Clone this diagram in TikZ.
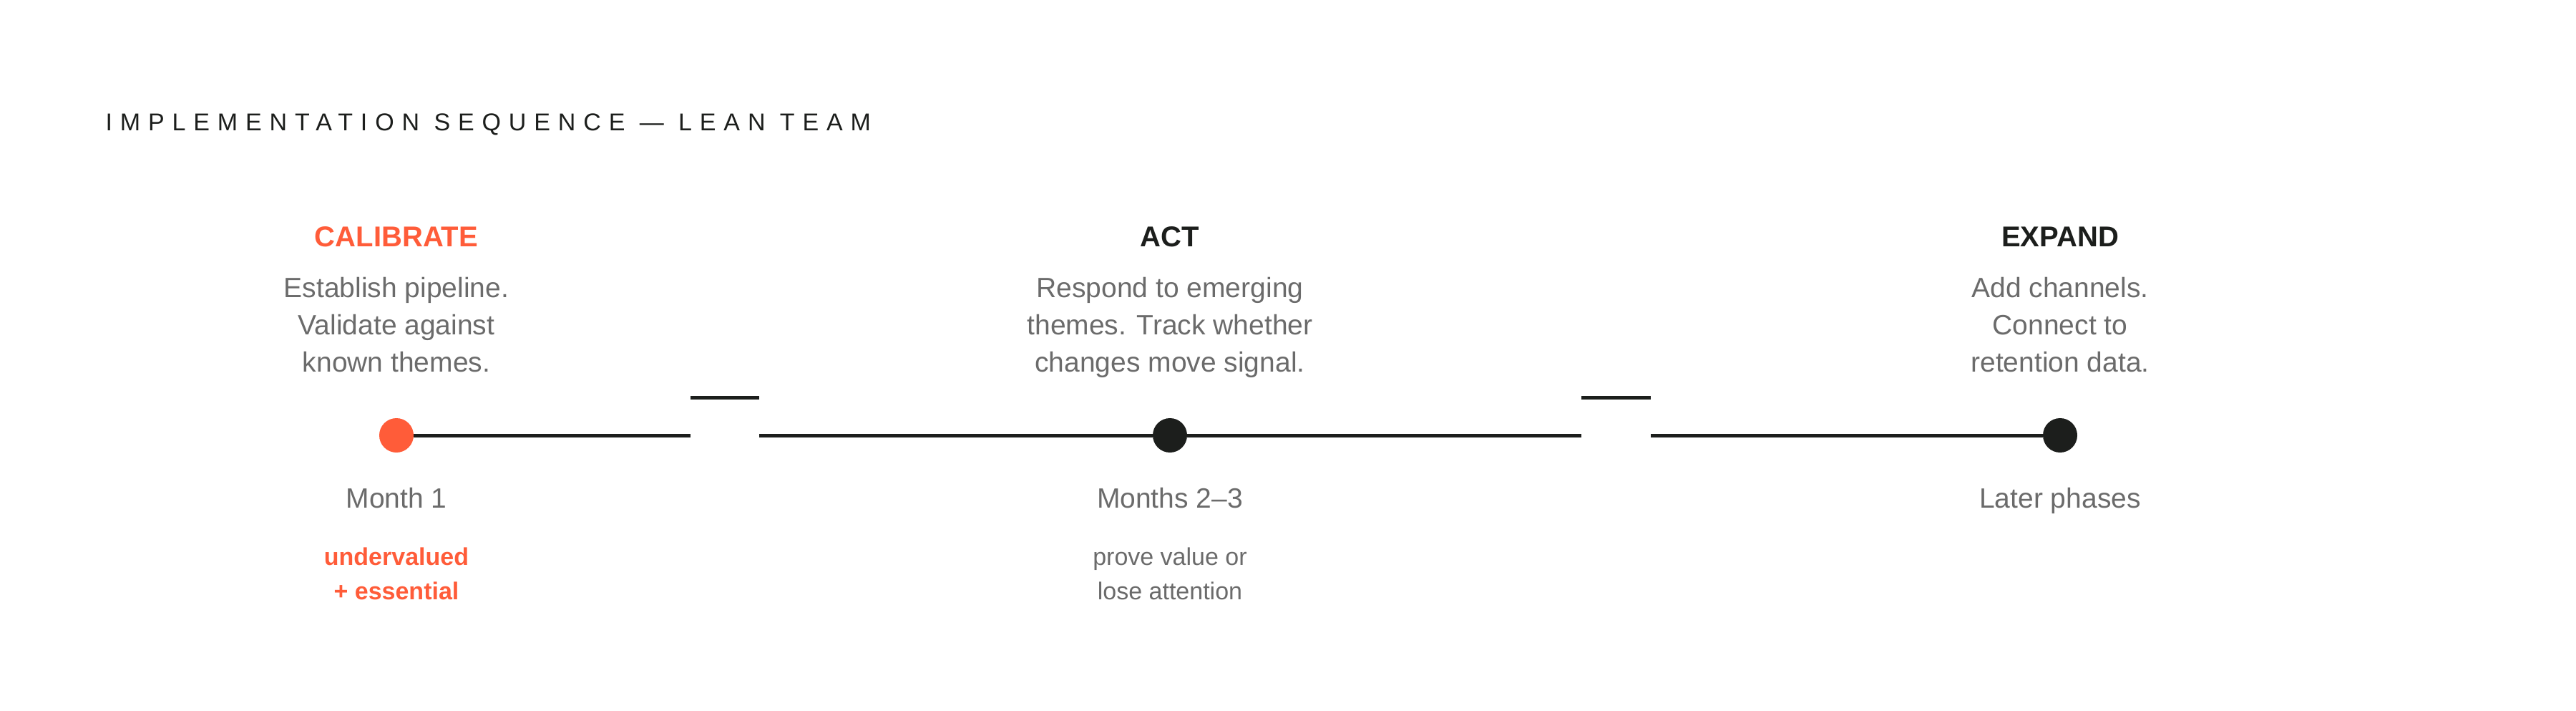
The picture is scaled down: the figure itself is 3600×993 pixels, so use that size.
\documentclass[tikz,border=0pt]{standalone}
\usepackage{fontspec}
\setmainfont{Liberation Sans}
\definecolor{accent}{HTML}{FF5C39}
\definecolor{ink}{HTML}{1C1E1C}
\definecolor{mute}{HTML}{6B6B6B}
\begin{document}
\begin{tikzpicture}[x=1pt,y=-1pt,
  title/.style={font=\fontsize{40}{46}\selectfont\bfseries, anchor=base},
  body/.style={font=\fontsize{39}{52}\selectfont, text=mute, align=center, anchor=base},
  note/.style={font=\fontsize{34}{48}\selectfont, align=center, anchor=base},
  dot/.style={circle, inner sep=0pt, minimum size=48pt},
  track/.style={line width=5pt, draw=ink}]
\useasboundingbox (0,0) rectangle (3600,993);
\node[anchor=base west, text=ink, font=\fontsize{34}{40}\selectfont\addfontfeatures{LetterSpace=32}] (hdr) at (144,182) {IMPLEMENTATION SEQUENCE — LEAN TEAM};

% stage 1
\node[title, text=accent] (t1) at (554,344) {CALIBRATE};
\node[body] (b1) at (554,519) {Establish pipeline.\\Validate against\\known themes.};
\node[dot, fill=accent] (d1) at (554,608) {};
\node[body] (m1) at (554,709) {Month 1};
\node[note, text=accent, font=\fontsize{34}{48}\selectfont\bfseries] (n1) at (554,837) {undervalued\\+ essential};

% stage 2
\node[title, text=ink] (t2) at (1635,344) {ACT};
\node[body] (b2) at (1635,519) {Respond to emerging\\themes. Track whether\\changes move signal.};
\node[dot, fill=ink] (d2) at (1635,608) {};
\node[body] (m2) at (1635,709) {Months 2–3};
\node[note, text=mute] (n2) at (1635,837) {prove value or\\lose attention};

% stage 3
\node[title, text=ink] (t3) at (2879,344) {EXPAND};
\node[body] (b3) at (2879,519) {Add channels.\\Connect to\\retention data.};
\node[dot, fill=ink] (d3) at (2879,608) {};
\node[body] (m3) at (2879,709) {Later phases};

% track with breaks
\coordinate (g1a) at (965,608);
\coordinate (g1b) at (1061,608);
\coordinate (g1c) at (965,555);
\coordinate (g1d) at (1061,555);
\coordinate (g2a) at (2210,608);
\coordinate (g2b) at (2307,608);
\coordinate (g2c) at (2210,555);
\coordinate (g2d) at (2307,555);
\draw[track] (d1) -- (g1a);
\draw[track] (g1b) -- (d2);
\draw[track] (d2) -- (g2a);
\draw[track] (g2b) -- (d3);
\draw[track] (g1c) -- (g1d);
\draw[track] (g2c) -- (g2d);
\end{tikzpicture}
\end{document}
